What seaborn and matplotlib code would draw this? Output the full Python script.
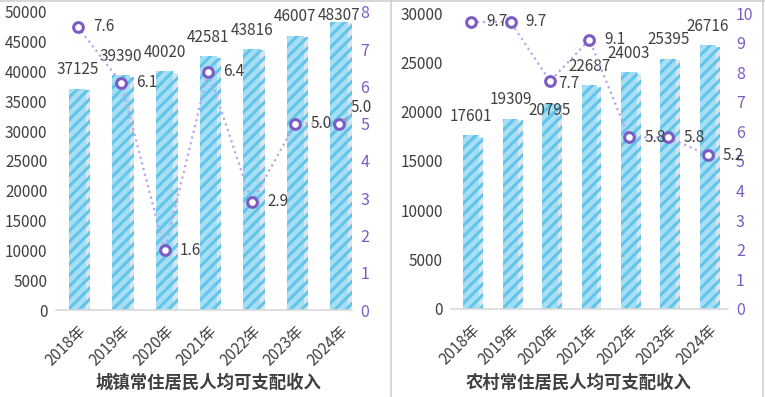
import matplotlib
matplotlib.use("Agg")
import matplotlib.pyplot as plt
import matplotlib.patheffects as pe
from matplotlib.lines import Line2D
import seaborn as sns

# 数据
years = ["2018年", "2019年", "2020年", "2021年", "2022年", "2023年", "2024年"]
urban_income = [37125, 39390, 40020, 42581, 43816, 46007, 48307]
urban_growth = [7.6, 6.1, 1.6, 6.4, 2.9, 5.0, 5.0]
rural_income = [17601, 19309, 20795, 22687, 24003, 25395, 26716]
rural_growth = [9.7, 9.7, 7.7, 9.1, 5.8, 5.8, 5.2]

sns.set_style("white")
plt.rcParams["font.family"] = ["Noto Sans CJK SC", "DejaVu Sans"]
plt.rcParams["hatch.linewidth"] = 2.2

TXT = "#404040"
PURPLE = "#7b5cc4"
LINE = "#b9a6e6"
BAR_FACE = "#a6def3"
BAR_HATCH = "#62c4ea"

fig = plt.figure(figsize=(7.65, 3.97), dpi=100)


def panel(rect, income, growth, ymax, ystep, y2max, title, title_x, xlim,
          bar_off=None, line_off=None, leader=None):
    bar_off = bar_off or {}
    line_off = line_off or {}
    ax = fig.add_axes(rect)
    sns.barplot(x=years, y=income, ax=ax, color=BAR_FACE, width=0.4, saturation=1)
    for p in ax.patches:
        p.set_hatch("///")
        p.set_edgecolor(BAR_HATCH)
        p.set_linewidth(0)
        p.set_path_effects([pe.SimplePatchShadow(offset=(3, -1), shadow_rgbFace="#c9dde6", alpha=0.7),
                            pe.Normal()])
    for i, v in enumerate(income):
        ax.annotate(str(v), (i, v), xytext=(0, bar_off.get(i, 13.5)), textcoords="offset points",
                    ha="center", va="center", fontsize=11, color=TXT)
    ax.set_ylim(0, ymax)
    ax.set_yticks(range(0, ymax + 1, ystep))
    ax.set_xlim(*xlim)
    ax.tick_params(axis="y", labelsize=11, labelcolor=TXT, length=0, pad=6)
    ax.tick_params(axis="x", labelsize=11, labelcolor=TXT, length=0, pad=9)
    plt.setp(ax.get_xticklabels(), rotation=45, ha="right", rotation_mode="anchor")
    for s in ["top", "left", "right"]:
        ax.spines[s].set_visible(False)
    ax.spines["bottom"].set_color("#d9d9d9")
    ax.spines["bottom"].set_linewidth(1.2)
    ax.set_xlabel("")

    ax2 = ax.twinx()
    sns.lineplot(x=list(range(len(growth))), y=growth, ax=ax2, color=LINE, linestyle=":",
                 linewidth=1.6, marker="o", markersize=7, markerfacecolor="white",
                 markeredgecolor=PURPLE, markeredgewidth=2.2)
    ax2.set_ylim(0, y2max)
    ax2.set_yticks(range(0, y2max + 1))
    ax2.tick_params(axis="y", labelsize=11.5, labelcolor=PURPLE, length=0, pad=6)
    for s in ax2.spines.values():
        s.set_visible(False)
    for i, g in enumerate(growth):
        if leader is not None and i == leader:
            ax2.annotate(f"{g:.1f}", (i, g), xytext=(16, 12), textcoords="offset points",
                         ha="center", va="center", fontsize=11, color=TXT,
                         arrowprops=dict(arrowstyle="-", color="#8c8c8c", lw=0.8,
                                         shrinkA=0, shrinkB=4))
        else:
            dx, dy = line_off.get(i, (11, 0))
            ax2.annotate(f"{g:.1f}", (i, g), xytext=(dx, dy), textcoords="offset points",
                         ha="left", va="center", fontsize=11, color=TXT)
    fig.text(title_x, 0.037, title, ha="center", va="center", fontsize=12.5,
             fontweight="bold", color=TXT)
    return ax


panel([0.073, 0.219, 0.387, 0.751], urban_income, urban_growth, 50000, 5000, 8,
      "城镇常住居民人均可支配收入", 0.273, (-0.5, 6.3), bar_off={6: 5}, leader=6)
panel([0.590, 0.222, 0.361, 0.745], rural_income, rural_growth, 30000, 5000, 10,
      "农村常住居民人均可支配收入", 0.756, (-0.5, 6.5), bar_off={2: -4.5},
      line_off={2: (6, -1.5)})

# 面板边框
for xs, ys in [([0, 1], [0.997, 0.997]), ([0.511, 0.511], [0, 1]), ([0.997, 0.997], [0, 1])]:
    fig.add_artist(Line2D(xs, ys, color="#d0d0d0", linewidth=1.2, transform=fig.transFigure))

fig.savefig("out.png", dpi=100)
